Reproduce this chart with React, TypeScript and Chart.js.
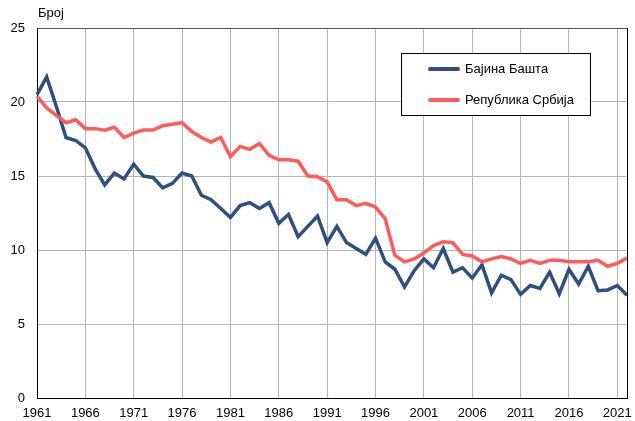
import React, { useEffect, useRef } from "react";
import { Chart, registerables } from "chart.js";

Chart.register(...registerables);

const years: string[] = [];
for (let y = 1961; y <= 2022; y++) years.push(String(y));

const bajinaBasta = [
  20.5, 21.7, 19.7, 17.6, 17.4, 16.9, 15.5, 14.4, 15.2, 14.8,
  15.8, 15.0, 14.9, 14.2, 14.5, 15.2, 15.0, 13.7, 13.4, 12.8,
  12.2, 13.0, 13.2, 12.8, 13.2, 11.8, 12.4, 10.9, 11.6, 12.3,
  10.5, 11.6, 10.5, 10.1, 9.7, 10.8, 9.2, 8.7, 7.5, 8.6,
  9.4, 8.8, 10.1, 8.5, 8.8, 8.1, 9.0, 7.1, 8.3, 8.0,
  7.0, 7.6, 7.4, 8.5, 7.05, 8.7, 7.7, 8.9, 7.25, 7.3,
  7.6, 6.95,
];

const republikaSrbija = [
  20.4, 19.6, 19.1, 18.6, 18.8, 18.2, 18.2, 18.1, 18.3, 17.6,
  17.9, 18.1, 18.1, 18.4, 18.5, 18.6, 18.0, 17.6, 17.3, 17.6,
  16.3, 17.0, 16.8, 17.2, 16.4, 16.1, 16.1, 16.0, 15.0, 14.95,
  14.6, 13.4, 13.4, 13.0, 13.15, 12.9, 12.1, 9.65, 9.2, 9.4,
  9.8, 10.3, 10.55, 10.5, 9.7, 9.6, 9.2, 9.4, 9.55, 9.4,
  9.1, 9.3, 9.1, 9.3, 9.3, 9.2, 9.2, 9.2, 9.3, 8.9,
  9.1, 9.45,
];

const seriesNames = ["Бајина Башта", "Република Србија"];
const seriesColors = ["#2E5080", "#FF5B5B"];
const yTicks = [0, 5, 10, 15, 20, 25];
const yAxisTitle = "Број";

const FONT = "'Liberation Sans', Arial, sans-serif";

export default function App() {
  const ref = useRef<HTMLCanvasElement | null>(null);

  useEffect(() => {
    document.body.style.margin = "0";
    const canvas = ref.current;
    if (!canvas) return;

    const overlay = {
      id: "overlay",
      afterDraw(chart: any) {
        const ctx = chart.ctx;
        const a = chart.chartArea;
        ctx.save();
        // top & right border
        ctx.lineWidth = 1;
        ctx.strokeStyle = "#555";
        ctx.beginPath();
        ctx.moveTo(a.left, Math.round(a.top) + 0.5);
        ctx.lineTo(a.right, Math.round(a.top) + 0.5);
        ctx.stroke();
        ctx.strokeStyle = "#000";
        ctx.beginPath();
        ctx.moveTo(Math.round(a.right) + 0.5, a.top);
        ctx.lineTo(Math.round(a.right) + 0.5, a.bottom);
        ctx.stroke();

        // axis title
        ctx.fillStyle = "#000";
        ctx.font = `13px ${FONT}`;
        ctx.textBaseline = "middle";
        ctx.textAlign = "left";
        ctx.fillText(yAxisTitle, 38, 13);

        // legend box
        const bx = 401.5, by = 53.5, bw = 189, bh = 62;
        ctx.fillStyle = "#fff";
        ctx.fillRect(bx, by, bw, bh);
        ctx.strokeStyle = "#000";
        ctx.lineWidth = 1;
        ctx.strokeRect(bx, by, bw, bh);
        const rows = [69, 100];
        seriesNames.forEach((name, i) => {
          ctx.strokeStyle = seriesColors[i];
          ctx.lineWidth = 4;
          ctx.lineCap = "round";
          ctx.beginPath();
          ctx.moveTo(430, rows[i]);
          ctx.lineTo(458, rows[i]);
          ctx.stroke();
          ctx.fillStyle = "#000";
          ctx.font = `13px ${FONT}`;
          ctx.textAlign = "left";
          ctx.textBaseline = "middle";
          ctx.fillText(name, 465, rows[i]);
        });
        ctx.restore();
      },
    };

    const chart = new Chart(canvas, {
      type: "line",
      data: {
        labels: years,
        datasets: [
          {
            label: seriesNames[1],
            data: republikaSrbija,
            borderColor: seriesColors[1],
            borderWidth: 3.5,
            pointRadius: 0,
            tension: 0,
          },
          {
            label: seriesNames[0],
            data: bajinaBasta,
            borderColor: seriesColors[0],
            borderWidth: 3.5,
            pointRadius: 0,
            tension: 0,
          },
        ],
      },
      options: {
        animation: false,
        responsive: false,
        maintainAspectRatio: false,
        layout: { padding: { left: 0, right: 6, top: 28, bottom: 0 } },
        plugins: {
          legend: { display: false },
          tooltip: { enabled: false },
          title: { display: false },
        },
        scales: {
          x: {
            type: "category",
            offset: false,
            border: { display: true, color: "#000", width: 1 },
            grid: {
              drawTicks: false,
              color: (c: any) =>
                c.index !== undefined && c.index % 5 === 0 ? "#b5b5b5" : "rgba(0,0,0,0)",
              lineWidth: 1,
            },
            ticks: {
              autoSkip: false,
              maxRotation: 0,
              minRotation: 0,
              padding: 8,
              color: "#000",
              font: { family: FONT, size: 13 },
              callback: (_v: any, i: number) => (i % 5 === 0 ? years[i] : ""),
            },
            afterFit: (s: any) => {
              s.height = 23;
            },
          },
          y: {
            min: 0,
            max: 25,
            border: { display: true, color: "#000", width: 1 },
            grid: { drawTicks: false, color: "#b5b5b5", lineWidth: 1 },
            ticks: {
              stepSize: 5,
              padding: 12,
              color: "#000",
              font: { family: FONT, size: 13 },
              callback: (v: any) => (yTicks.includes(Number(v)) ? String(v) : ""),
            },
            afterFit: (s: any) => {
              s.width = 37;
            },
          },
        },
      },
      plugins: [overlay],
    });

    return () => chart.destroy();
  }, []);

  return (
    <div style={{ position: "absolute", left: 0, top: 0, width: 635, height: 421, background: "#fff" }}>
      <canvas ref={ref} width={635} height={421} style={{ width: 635, height: 421 }} />
    </div>
  );
}
